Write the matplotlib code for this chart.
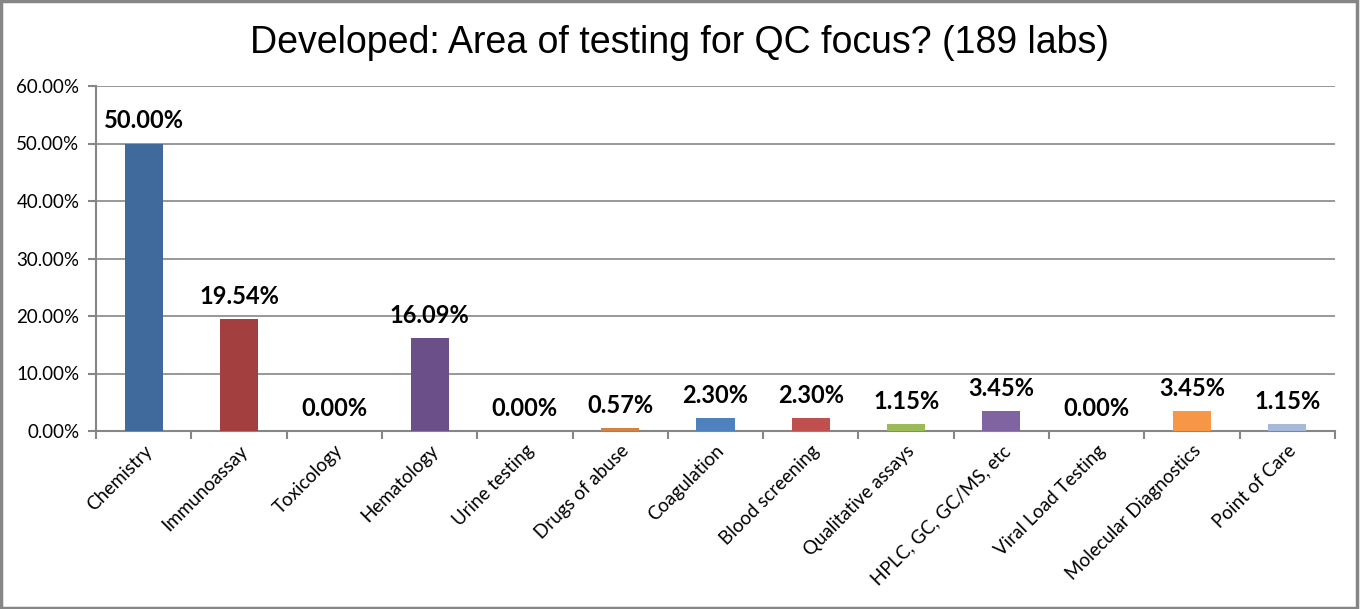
import matplotlib
matplotlib.use("Agg")
import matplotlib.pyplot as plt
from matplotlib.ticker import FuncFormatter, MultipleLocator
from matplotlib.patches import Rectangle

categories = ["Chemistry", "Immunoassay", "Toxicology", "Hematology", "Urine testing",
              "Drugs of abuse", "Coagulation", "Blood screening", "Qualitative assays",
              "HPLC, GC, GC/MS, etc", "Viral Load Testing", "Molecular Diagnostics",
              "Point of Care"]
values = [50.00, 19.54, 0.00, 16.09, 0.00, 0.57, 2.30, 2.30, 1.15, 3.45, 0.00, 3.45, 1.15]
colors = ["#416A9C", "#A33F3F", "#7F9D4A", "#6B4F89", "#3E8FA8", "#CF8446", "#4F81BD",
          "#C0504D", "#9BBB59", "#8064A2", "#4BACC6", "#F79646", "#A7B9DA"]

fig = plt.figure(figsize=(13.6, 6.09), dpi=100)
ax = fig.add_axes([96/1360, 1-431/609, (1335-96)/1360, (431-86)/609])

x = list(range(len(categories)))
ax.bar(x, values, width=0.4, color=colors, zorder=3)
ax.set_xlim(-0.5, len(categories)-0.5)
ax.set_ylim(0, 60)
ax.yaxis.set_major_locator(MultipleLocator(10))
ax.yaxis.set_major_formatter(FuncFormatter(lambda v, p: f"{v:.2f}%"))
ax.grid(axis="y", color="#868686", linewidth=1.2, zorder=0)
for s in ["top", "right"]:
    ax.spines[s].set_visible(False)
for s in ["left", "bottom"]:
    ax.spines[s].set_color("#868686")
    ax.spines[s].set_linewidth(1.5)
ax.tick_params(axis="y", direction="out", length=6, color="#868686", width=1.5,
               labelsize=13.5, pad=6)
ax.set_xticks(x)
ax.set_xticklabels(categories, rotation=45, ha="right", rotation_mode="anchor",
                   fontsize=13.5, family="Lato")
ax.tick_params(axis="x", length=0, pad=8)
for lab in ax.get_yticklabels():
    lab.set_family("Lato")
ax.set_xticks([i - 0.5 for i in range(len(categories)+1)], minor=True)
ax.tick_params(axis="x", which="minor", direction="out", length=6, color="#868686", width=1.5)

for xi, v in zip(x, values):
    ax.annotate(f"{v:.2f}%", (xi, v), xytext=(0, 8), textcoords="offset points",
                ha="center", va="bottom", fontsize=17, fontweight="bold", family="Lato")

fig.text(0.5, 1-43/609, "Developed: Area of testing for QC focus? (189 labs)",
         ha="center", va="center", fontsize=27, family="Liberation Sans")

fig.patches.append(Rectangle((0.001, 0.002), 0.997, 0.996, transform=fig.transFigure,
                             fill=False, edgecolor="#868686", linewidth=2.5))
fig.savefig("out.png", dpi=100)
